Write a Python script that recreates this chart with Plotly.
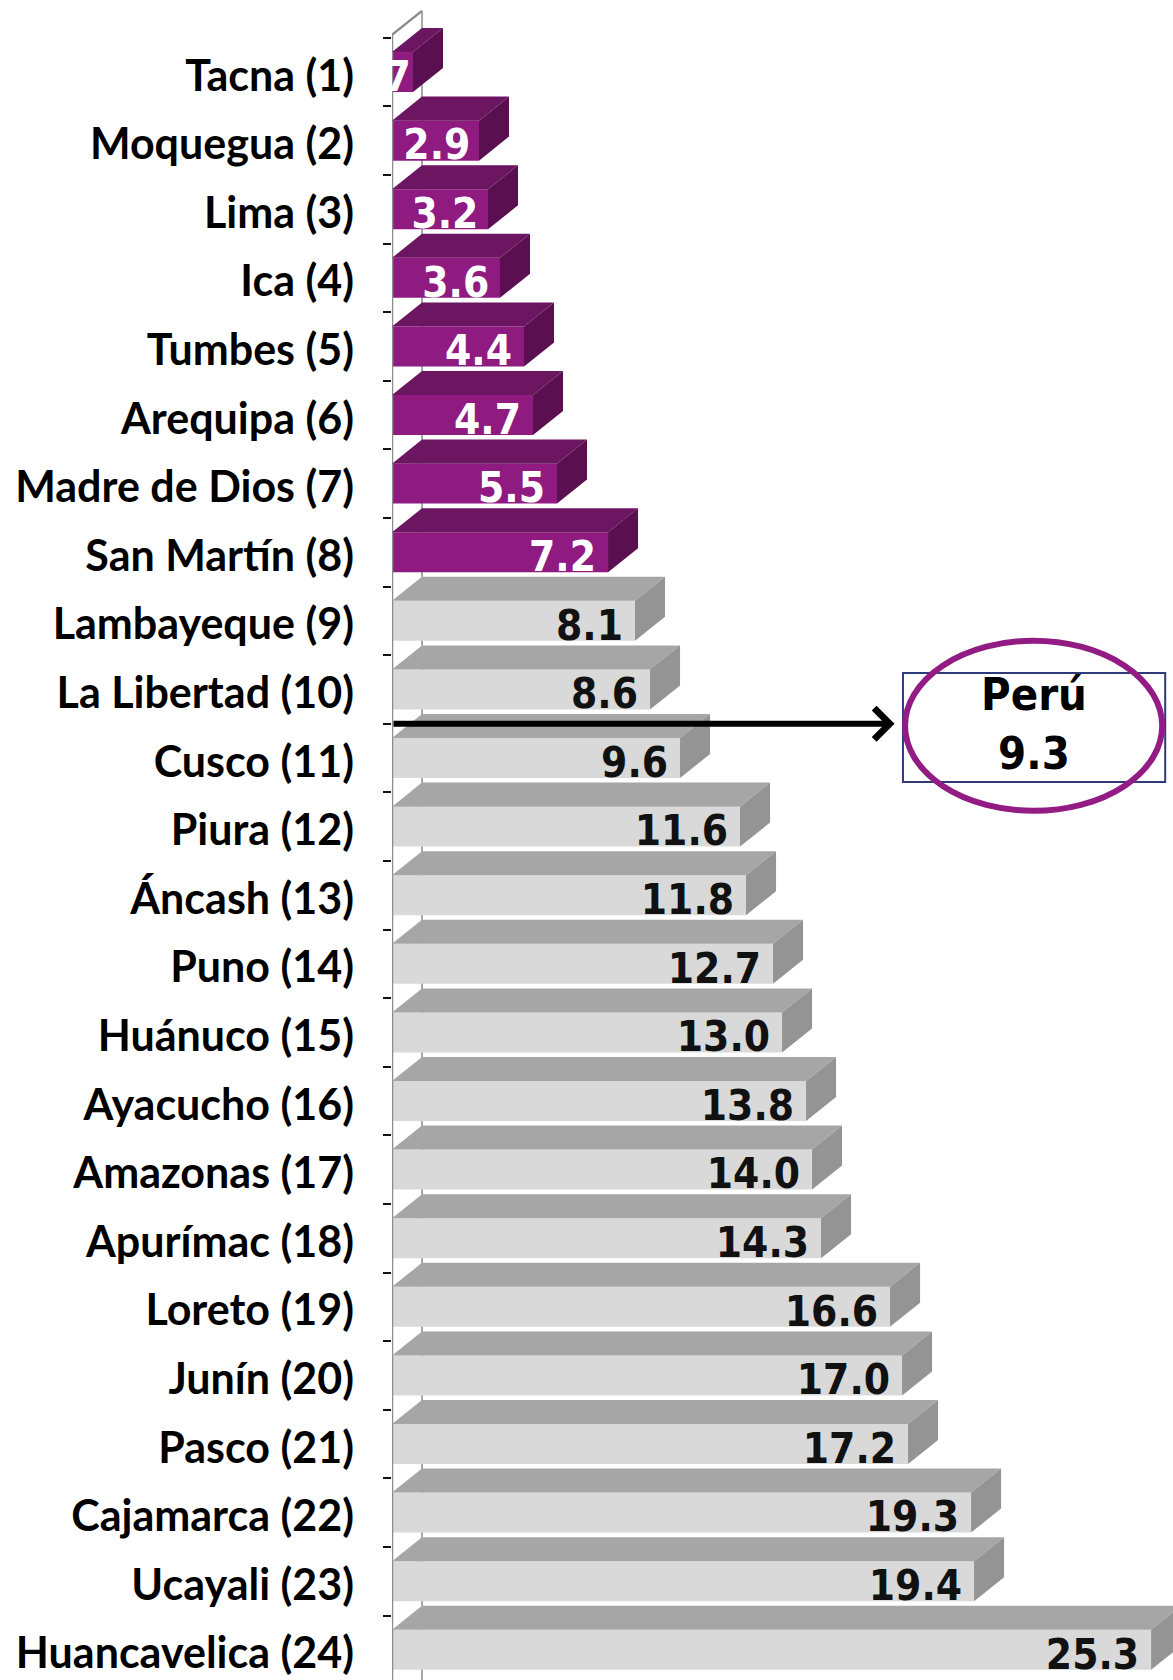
import plotly.graph_objects as go

# ---------------- data ----------------
regions = ["Tacna", "Moquegua", "Lima", "Ica", "Tumbes", "Arequipa", "Madre de Dios",
           "San Martín", "Lambayeque", "La Libertad", "Cusco", "Piura", "Áncash", "Puno",
           "Huánuco", "Ayacucho", "Amazonas", "Apurímac", "Loreto", "Junín", "Pasco",
           "Cajamarca", "Ucayali", "Huancavelica"]
ranks = [1, 2, 3, 4, 5, 6, 7, 8, 9, 10, 11, 12, 13, 14, 15, 16, 17, 18, 19, 20, 21, 22, 23, 24]
values = [0.7, 2.9, 3.2, 3.6, 4.4, 4.7, 5.5, 7.2, 8.1, 8.6, 9.6, 11.6, 11.8, 12.7, 13.0,
          13.8, 14.0, 14.3, 16.6, 17.0, 17.2, 19.3, 19.4, 25.3]
highlighted = [True] * 8 + [False] * 16
peru_label = "Perú"
peru_value = 9.3

# ---------------- style ----------------
W, H = 1173, 1680
FACE_H = 0.583      # front face height (category units)
DX = 1.0            # depth offset in x (value units)
DY = 0.35           # depth offset in y (category units)
PURPLE = dict(front="#8F1B81", top="#6C1561", side="#5A1050", text="white")
GRAY = dict(front="#D9D9D9", top="#A6A6A6", side="#949494", text="#111111")
LABEL_FONT = "Lato, 'Noto Sans', sans-serif"
NUM_FONT = "'DejaVu Sans Condensed', 'Liberation Sans Narrow', 'DejaVu Sans', sans-serif"

idx = list(range(len(values)))
fig = go.Figure()

y_bottom = 23.44
y_top = -1.05
wall_top = -FACE_H / 2 - 0.25

# back wall vertical line (behind the bars)
fig.add_shape(type="line", x0=DX, x1=DX, y0=y_bottom, y1=wall_top - DY, xref="x", yref="y",
              line=dict(color="#A8A8A8", width=2), layer="below")
# front axis line with the wall's top edge
fig.add_trace(go.Scatter(x=[0, 0, DX], y=[y_bottom, wall_top, wall_top - DY], mode="lines",
                         line=dict(color="#8C8C8C", width=2.5), hoverinfo="skip", showlegend=False))

for flag, pal in ((True, PURPLE), (False, GRAY)):
    sel = [i for i in idx if highlighted[i] == flag]
    # front faces
    fig.add_trace(go.Bar(
        x=[values[i] for i in sel], y=sel, base=0, orientation="h", width=FACE_H,
        marker=dict(color=pal["front"], line=dict(width=0)), hoverinfo="skip", showlegend=False))
    # top and side faces
    tx, ty, sx, sy = [], [], [], []
    for i in sel:
        v = values[i]
        y0 = i - FACE_H / 2
        tx += [0, v, v + DX, DX, 0, None]
        ty += [y0, y0, y0 - DY, y0 - DY, y0, None]
        sx += [v, v + DX, v + DX, v, v, None]
        sy += [y0, y0 - DY, y0 + FACE_H - DY, y0 + FACE_H, y0, None]
    fig.add_trace(go.Scatter(x=tx, y=ty, mode="lines", fill="toself", fillcolor=pal["top"],
                             line=dict(width=0, color=pal["top"]), hoverinfo="skip", showlegend=False))
    fig.add_trace(go.Scatter(x=sx, y=sy, mode="lines", fill="toself", fillcolor=pal["side"],
                             line=dict(width=0, color=pal["side"]), hoverinfo="skip", showlegend=False))
    # value labels (inside the front face, near its end)
    fig.add_trace(go.Scatter(
        x=[values[i] - min(0.4, 0.1 * values[i]) for i in sel], y=[i + 0.12 for i in sel],
        mode="text", text=[f"{values[i]:.1f}" for i in sel], textposition="middle left",
        textfont=dict(family=NUM_FONT, size=42, color=pal["text"], weight="bold"),
        cliponaxis=True, hoverinfo="skip", showlegend=False))

# Perú reference arrow, placed between the rows that bracket the national value
arrow_y = sum(1 for v in values if v < peru_value) - 0.5
fig.add_annotation(x=16.75, y=arrow_y, ax=0, ay=arrow_y, xref="x", yref="y", axref="x", ayref="y",
                   showarrow=True, arrowhead=4, arrowsize=1.0, arrowwidth=6, arrowcolor="black",
                   text="")
fig.add_shape(type="rect", x0=17.03, x1=25.77, y0=8.76, y1=10.35, xref="x", yref="y",
              line=dict(color="#2F3A7A", width=2))
fig.add_shape(type="circle", x0=17.1, x1=25.67, y0=8.29, y1=10.77, xref="x", yref="y",
              line=dict(color="#921C84", width=6))
fig.add_annotation(x=21.4, y=arrow_y, xref="x", yref="y", showarrow=False,
                   text=f"{peru_label}<br>{peru_value:.1f}",
                   font=dict(family=NUM_FONT, size=45, color="black", weight="bold"))

fig.update_layout(
    width=W, height=H, margin=dict(l=392, r=0, t=0, b=0, autoexpand=False),
    paper_bgcolor="white", plot_bgcolor="white", barmode="overlay",
    xaxis=dict(range=[0, 26.03], visible=False, fixedrange=True, automargin=False),
    yaxis=dict(range=[y_bottom, y_top], tickmode="array", tickvals=[i + 0.05 for i in idx],
               automargin=False,
               ticktext=[f"{r} ({k})" for r, k in zip(regions, ranks)],
               ticks="", showline=False, showgrid=False, zeroline=False,
               ticklabelstandoff=37,
               tickfont=dict(family=LABEL_FONT, size=43, color="black", weight="bold"),
               minor=dict(tickmode="array", tickvals=[i - 0.5 for i in idx] + [len(idx) - 0.5],
                          ticks="outside", ticklen=8, tickwidth=2, tickcolor="#111111",
                          showgrid=False)),
    showlegend=False,
)

fig.write_html("out.html", config={"displayModeBar": False},
               post_script="document.body.style.margin='0';document.body.style.overflow='hidden';")
